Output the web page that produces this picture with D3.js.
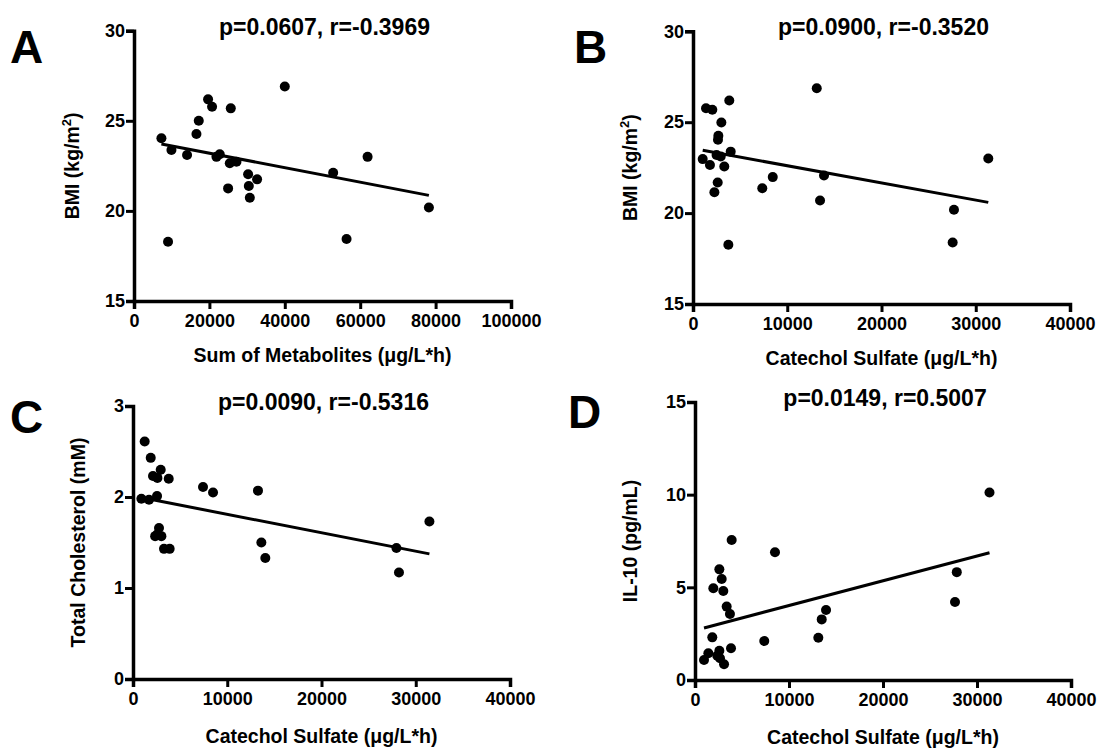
<!DOCTYPE html>
<html>
<head>
<meta charset="utf-8">
<script src="https://cdn.jsdelivr.net/npm/d3@7"></script>
<style>
  body { margin: 0; background: #fff; }
  svg text { font-family: "Liberation Sans", Arial, Helvetica, sans-serif; font-weight: bold; fill: #000; }
</style>
</head>
<body>
<svg id="fig" width="1099" height="751"></svg>
<script>
// --- data ---
// A: sum of metabolites vs BMI
const sumMetabolitesA = [7270, 9930, 9030, 14070, 16560, 17180, 19650, 20710, 21870, 22750, 25670, 24960,
  25410, 27180, 30270, 30450, 30720, 32650, 40000, 52830, 56380, 61960, 78220];
const bmiA = [24.03, 23.38, 18.29, 23.1, 24.27, 25.0, 26.19, 25.78, 23.0, 23.14, 25.69, 21.25,
  22.64, 22.73, 22.03, 21.38, 20.73, 21.75, 26.9, 22.12, 18.44, 23.0, 20.19];

// B: catechol sulfate vs BMI
const catecholB = [1030, 1380, 1800, 2050, 2270, 2620, 2650, 2690, 3010, 2940, 3320, 3750,
  3850, 4000, 2500, 7350, 8460, 13130, 13480, 13900, 27690, 27550, 31330];
const bmiB = [22.97, 25.77, 22.65, 25.68, 21.15, 21.68, 24.03, 24.25, 24.98, 23.11, 22.56, 18.26,
  26.19, 23.38, 23.2, 21.37, 21.98, 26.87, 20.69, 22.07, 20.18, 18.38, 23.0];

// C: catechol sulfate vs total cholesterol
const catecholC = [1240, 1880, 890, 1700, 2120, 2590, 2940, 2550, 3790, 2760, 2590, 3010,
  3290, 3890, 2350, 7430, 8490, 13260, 13620, 14040, 27950, 28220, 31450];
const cholesterolC = [2.61, 2.43, 1.98, 1.97, 2.23, 2.21, 2.30, 2.01, 2.20, 1.66, 1.59, 1.57,
  1.43, 1.43, 1.57, 2.11, 2.05, 2.07, 1.50, 1.33, 1.44, 1.17, 1.73];

// D: catechol sulfate vs IL-10
const catecholD = [3900, 8510, 2590, 2840, 1950, 3010, 3370, 3720, 1840, 7370, 13120, 13480,
  13940, 960, 1420, 2370, 2590, 3830, 3090, 2660, 27850, 27660, 31330];
const il10D = [7.55, 6.89, 5.97, 5.45, 4.95, 4.80, 3.96, 3.56, 2.30, 2.10, 2.28, 3.27,
  3.78, 1.08, 1.44, 1.31, 1.58, 1.71, 0.85, 1.17, 5.82, 4.21, 10.12];

const ticksSum = [0, 20000, 40000, 60000, 80000, 100000];
const ticksCatechol = [0, 10000, 20000, 30000, 40000];
const ticksBmi = [15, 20, 25, 30];
const ticksChol = [0, 1, 2, 3];
const ticksIl10 = [0, 5, 10, 15];

const panels = [
  { letter: "A", xs: sumMetabolitesA, ys: bmiA, xTicks: ticksSum, yTicks: ticksBmi,
    stats: "p=0.0607, r=-0.3969", xLabel: "Sum of Metabolites (\u03bcg/L*h)", yLabel: ["BMI (kg/m", "2", ")"],
    left: 134, right: 511, top: 30.7, bottom: 301, letterX: 10, letterY: 63, yTitleX: 79, xTitleOff: 61 },
  { letter: "B", xs: catecholB, ys: bmiB, xTicks: ticksCatechol, yTicks: ticksBmi,
    stats: "p=0.0900, r=-0.3520", xLabel: "Catechol Sulfate (\u03bcg/L*h)", yLabel: ["BMI (kg/m", "2", ")"],
    left: 693, right: 1070, top: 31.3, bottom: 304, letterX: 574, letterY: 63, yTitleX: 637, xTitleOff: 61 },
  { letter: "C", xs: catecholC, ys: cholesterolC, xTicks: ticksCatechol, yTicks: ticksChol,
    stats: "p=0.0090, r=-0.5316", xLabel: "Catechol Sulfate (\u03bcg/L*h)", yLabel: ["Total Cholesterol (mM)"],
    left: 133, right: 510, top: 406, bottom: 679, letterX: 10, letterY: 433, yTitleX: 85, xTitleOff: 64 },
  { letter: "D", xs: catecholD, ys: il10D, xTicks: ticksCatechol, yTicks: ticksIl10,
    stats: "p=0.0149, r=0.5007", xLabel: "Catechol Sulfate (\u03bcg/L*h)", yLabel: ["IL-10 (pg/mL)"],
    left: 695, right: 1071, top: 402, bottom: 680, letterX: 568, letterY: 428, yTitleX: 637, xTitleOff: 64 }
];

const svg = d3.select("#fig");
svg.append("rect").attr("width", 1099).attr("height", 751).attr("fill", "#fff");

panels.forEach(p => {
  const x = d3.scaleLinear().domain(d3.extent(p.xTicks)).range([p.left, p.right]);
  const y = d3.scaleLinear().domain(d3.extent(p.yTicks)).range([p.bottom, p.top]);
  const g = svg.append("g");

  // least squares fit, drawn over the data range
  const mx = d3.mean(p.xs), my = d3.mean(p.ys);
  const slope = d3.sum(p.xs, (v, i) => (v - mx) * (p.ys[i] - my)) / d3.sum(p.xs, v => (v - mx) ** 2);
  const icpt = my - slope * mx;
  const ends = d3.extent(p.xs).map(v => [v, icpt + slope * v]);

  g.append("path")
    .attr("d", d3.line().x(d => x(d[0])).y(d => y(d[1]))(ends))
    .attr("fill", "none").attr("stroke", "#000").attr("stroke-width", 3);

  g.selectAll("circle").data(p.xs).join("circle")
    .attr("cx", d => x(d))
    .attr("cy", (d, i) => y(p.ys[i]))
    .attr("r", 5).attr("fill", "#000");

  const xAxis = g.append("g")
    .attr("transform", "translate(0," + p.bottom + ")")
    .call(d3.axisBottom(x).tickValues(p.xTicks).tickFormat(d3.format("d")).tickSize(8).tickPadding(5));
  const yAxis = g.append("g")
    .attr("transform", "translate(" + p.left + ",0)")
    .call(d3.axisLeft(y).tickValues(p.yTicks).tickFormat(d3.format("d")).tickSize(8).tickPadding(1));

  [xAxis, yAxis].forEach(a => {
    a.select(".domain").attr("stroke", "#000").attr("stroke-width", 3.5);
    a.selectAll(".tick line").attr("stroke", "#000").attr("stroke-width", 3);
    a.selectAll("text").attr("font-size", 18).attr("fill", "#000")
      .style("font-family", '"Liberation Sans", Arial, sans-serif').style("font-weight", "bold");
  });

  const cx = (p.left + p.right) / 2;
  g.append("text").attr("x", cx + 2).attr("y", p.top + 4)
    .attr("text-anchor", "middle").attr("font-size", 23).text(p.stats);

  g.append("text").attr("x", p.letterX).attr("y", p.letterY).attr("font-size", 46).text(p.letter);

  g.append("text").attr("x", cx).attr("y", p.bottom + p.xTitleOff)
    .attr("text-anchor", "middle").attr("font-size", 19.5).text(p.xLabel);

  const yt = g.append("text")
    .attr("transform", "translate(" + p.yTitleX + "," + ((p.top + p.bottom) / 2) + ") rotate(-90)")
    .attr("text-anchor", "middle").attr("font-size", 19.5);
  yt.append("tspan").text(p.yLabel[0]);
  if (p.yLabel.length > 1) {
    yt.append("tspan").attr("font-size", 13).attr("dy", -8).text(p.yLabel[1]);
    yt.append("tspan").attr("dy", 8).text(p.yLabel[2]);
  }
});
</script>
</body>
</html>
